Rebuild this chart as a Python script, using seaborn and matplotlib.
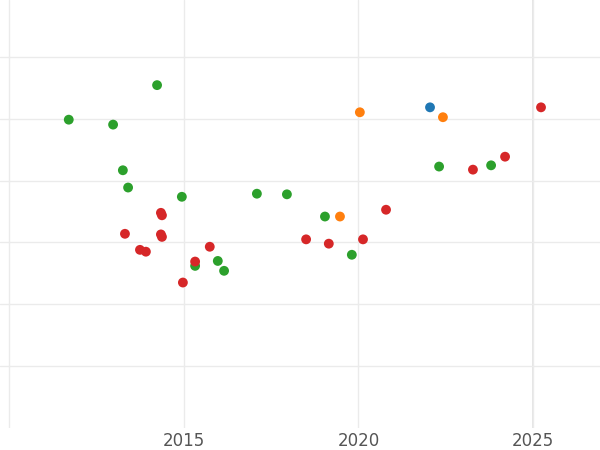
import matplotlib
matplotlib.use("Agg")
import matplotlib.pyplot as plt
import seaborn as sns
import pandas as pd

# values (y has no labels, arbitrary units)
green_x = [2011.70, 2012.97, 2014.23, 2013.25, 2013.40, 2014.94, 2017.09, 2017.95, 2019.04, 2019.81, 2015.32, 2015.97, 2016.15, 2022.31, 2023.80]
green_y = [3.99, 3.91, 4.55, 3.17, 2.89, 2.74, 2.79, 2.78, 2.42, 1.80, 1.62, 1.70, 1.54, 3.23, 3.25]
red_x = [2013.31, 2013.74, 2013.91, 2014.34, 2014.37, 2014.34, 2014.37, 2014.97, 2015.32, 2015.74, 2018.50, 2019.15, 2020.13, 2020.79, 2023.28, 2024.20, 2025.23]
red_y = [2.14, 1.88, 1.85, 2.48, 2.44, 2.13, 2.09, 1.35, 1.69, 1.93, 2.05, 1.98, 2.05, 2.53, 3.18, 3.39, 4.19]
orange_x = [2020.04, 2022.42, 2019.47]
orange_y = [4.11, 4.03, 2.42]
blue_x = [2022.05]
blue_y = [4.19]

groups = {"green": (green_x, green_y), "red": (red_x, red_y),
          "orange": (orange_x, orange_y), "blue": (blue_x, blue_y)}
rows = []
for g, (xs, ys) in groups.items():
    for x, y in zip(xs, ys):
        rows.append({"year": x, "value": y, "group": g})
df = pd.DataFrame(rows)

palette = {"green": "#2ca02c", "red": "#d62728", "orange": "#ff7f0e", "blue": "#1f77b4"}

sns.set_style("whitegrid")
fig, ax = plt.subplots(figsize=(6, 4.5), dpi=100)
fig.subplots_adjust(left=0, right=1, top=1, bottom=0.05)

sns.scatterplot(data=df, x="year", y="value", hue="group", palette=palette,
                s=50, edgecolor="none", legend=False, ax=ax)

ax.set_xlim(2009.73, 2026.92)
ax.set_ylim(-1.0, 5.93)
ax.set_xticks([2010, 2015, 2020, 2025])
ax.set_xticklabels(["", "2015", "2020", "2025"])
ax.set_yticks([0, 1, 2, 3, 4, 5])
ax.set_yticklabels([])
ax.grid(color="#ebebeb", linewidth=1)
ax.axvline(2025, color="#e0e0e0", linewidth=1.2, zorder=0)
ax.tick_params(axis="x", colors="#555555", labelsize=12, length=0)
ax.tick_params(axis="y", length=0)
for s in ax.spines.values():
    s.set_visible(False)
ax.set_xlabel("")
ax.set_ylabel("")

fig.savefig("out.png", dpi=100)
